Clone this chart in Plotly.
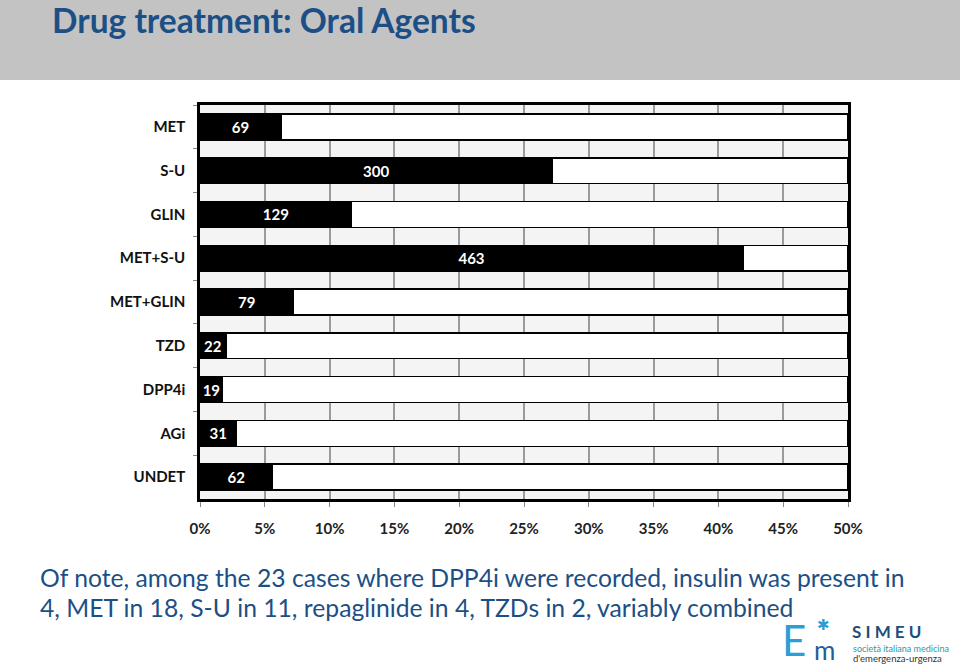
import plotly.graph_objects as go

# ---- data ----
categories = ["MET", "S-U", "GLIN", "MET+S-U", "MET+GLIN", "TZD", "DPP4i", "AGi", "UNDET"]
counts = [69, 300, 129, 463, 79, 22, 19, 31, 62]
percent = [6.25, 27.2, 11.7, 41.9, 7.2, 2.0, 1.75, 2.8, 5.6]
axis_max = 50
remainder = [axis_max - p for p in percent]
tick_vals = [0, 5, 10, 15, 20, 25, 30, 35, 40, 45, 50]
tick_text = ["0%", "5%", "10%", "15%", "20%", "25%", "30%", "35%", "40%", "45%", "50%"]

title_text = "Drug treatment: Oral Agents"
note_lines = [
    "Of note, among the 23 cases where DPP4i were recorded, insulin was present in",
    "4, MET in 18, S-U in 11, repaglinide in 4, TZDs in 2, variably combined",
]

# ---- layout geometry (pixels) ----
W, H = 960, 666
PL, PR, PT, PB = 200, 848, 105, 499


def px(x):
    return (x - PL) / (PR - PL)


def py(y):
    return (PB - y) / (PB - PT)


FONT = "Lato"
BLUE = "#1c4f86"

fig = go.Figure()
fig.add_trace(go.Bar(
    y=categories, x=percent, orientation="h",
    marker=dict(color="black", line=dict(color="black", width=1.5)),
    text=[str(c) for c in counts], textposition="inside", insidetextanchor="middle",
    textfont=dict(color="white", size=15, family=FONT, weight="bold"),
    width=0.59, hoverinfo="skip", showlegend=False,
))
fig.add_trace(go.Bar(
    y=categories, x=remainder, orientation="h",
    marker=dict(color="white", line=dict(color="black", width=1.5)),
    width=0.59, hoverinfo="skip", showlegend=False,
))

shapes = [
    # grey header band
    dict(type="rect", xref="paper", yref="paper", x0=px(0), x1=px(W), y0=py(80), y1=py(0),
         fillcolor="#c3c3c3", line=dict(width=0), layer="below"),
]

annotations = [
    dict(text=title_text, xref="paper", yref="paper", x=px(51), y=py(20), xanchor="left",
         yanchor="middle", showarrow=False, borderpad=0,
         font=dict(family=FONT, size=33.5, color=BLUE, weight="bold")),
    dict(text=note_lines[0], xref="paper", yref="paper", x=px(38), y=py(577), xanchor="left",
         yanchor="middle", showarrow=False, font=dict(family=FONT, size=24.7, color=BLUE)),
    dict(text=note_lines[1], xref="paper", yref="paper", x=px(38), y=py(607), xanchor="left",
         yanchor="middle", showarrow=False, font=dict(family=FONT, size=24.7, color=BLUE)),
    # logo
    dict(text="E", xref="paper", yref="paper", x=px(781), y=py(640), xanchor="left",
         yanchor="middle", showarrow=False, borderpad=0,
         font=dict(family=FONT, size=42, color="#2a9fd6")),
    dict(text="✱", xref="paper", yref="paper", x=px(816), y=py(625), xanchor="left",
         yanchor="middle", showarrow=False, borderpad=0,
         font=dict(family="DejaVu Sans", size=15, color="#2a9fd6")),
    dict(text="m", xref="paper", yref="paper", x=px(813), y=py(650), xanchor="left",
         yanchor="middle", showarrow=False, borderpad=0,
         font=dict(family=FONT, size=26, color="#1f5e9c")),
    dict(text="S I M E U", xref="paper", yref="paper", x=px(850), y=py(631), xanchor="left",
         yanchor="middle", showarrow=False,
         font=dict(family=FONT, size=17, color="#1d4f7c", weight="bold")),
    dict(text="società italiana medicina", xref="paper", yref="paper", x=px(851), y=py(648),
         xanchor="left", yanchor="middle", showarrow=False,
         font=dict(family=FONT, size=9, color="#2a9aa6")),
    dict(text="d'emergenza-urgenza", xref="paper", yref="paper", x=px(851), y=py(658),
         xanchor="left", yanchor="middle", showarrow=False,
         font=dict(family=FONT, size=9.5, color="#333333")),
]

fig.update_layout(
    width=W, height=H,
    margin=dict(l=PL, r=W - PR, t=PT, b=H - PB, pad=0),
    barmode="stack", bargap=0.41,
    paper_bgcolor="white", plot_bgcolor="#f4f4f4",
    shapes=shapes, annotations=annotations,
    uniformtext=dict(minsize=15, mode="show"),
    xaxis=dict(range=[0, axis_max], tickvals=tick_vals, ticktext=tick_text,
               showgrid=True, gridcolor="#9a9a9a", gridwidth=1.5, zeroline=False,
               showline=True, linecolor="black", linewidth=2.5, mirror=True,
               ticks="outside", ticklen=5, tickcolor="#888888", ticklabelstandoff=9,
               tickfont=dict(family=FONT, size=15, color="#222222", weight="bold"),
               fixedrange=True),
    yaxis=dict(categoryorder="array", categoryarray=categories, autorange="reversed",
               showgrid=False, showline=True, linecolor="black", linewidth=2.5, mirror=True,
               ticks="outside", tickson="boundaries", ticklen=4, tickcolor="#888888",
               ticklabelstandoff=9,
               tickfont=dict(family=FONT, size=15, color="#111111", weight="bold"),
               fixedrange=True),
)

fig.write_html("out.html", post_script="document.body.style.margin='0';",
               config={"displayModeBar": False})
